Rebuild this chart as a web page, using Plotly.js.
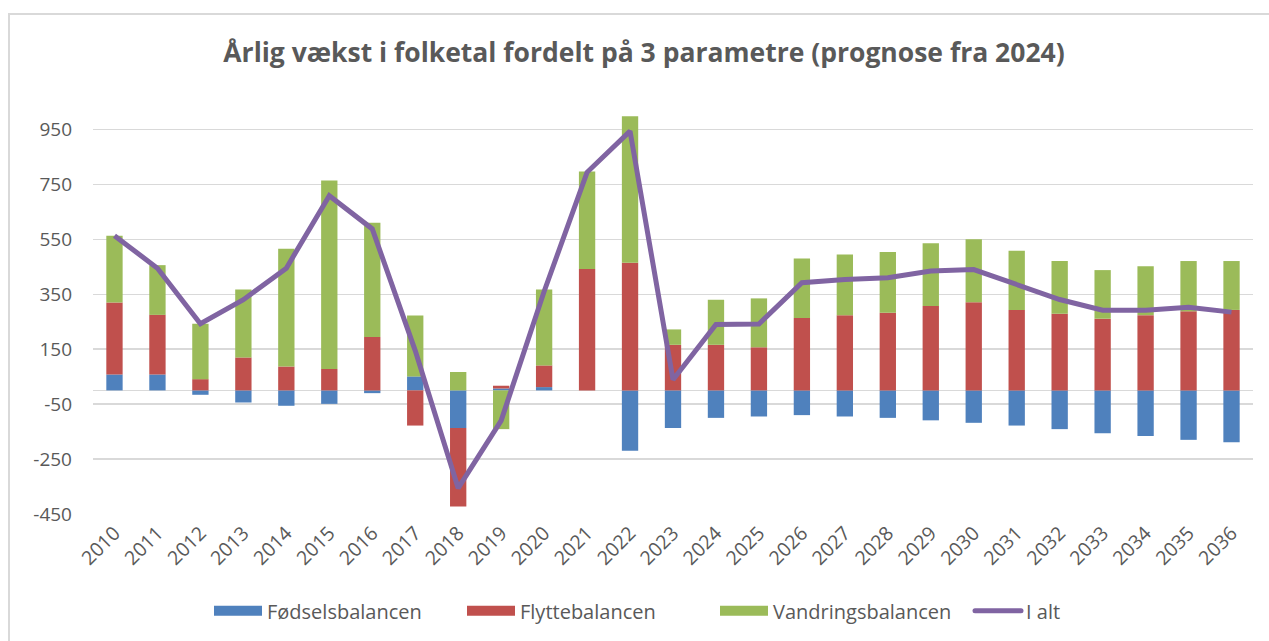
<!DOCTYPE html>
<html>
<head>
<meta charset="utf-8">
<script src="https://cdn.plot.ly/plotly-3.0.1.min.js"></script>
<style>
  html, body { margin: 0; padding: 0; background: #ffffff; }
  #frame { position: absolute; left: 8px; top: 13px; width: 1261px; height: 628px;
           border-left: 2px solid #d9d9d9; border-top: 2px solid #d9d9d9; box-sizing: border-box; }
  #chart { position: absolute; left: 0; top: 0; width: 1269px; height: 641px; }
  /* wide Excel-like legend swatches */
  #chart .legend .legendpoints path { d: path('M24,5H-24V-5H24Z') !important; }
  #chart .legend .legendlines path { d: path('M7,0h46') !important; stroke-linecap: round; }
</style>
</head>
<body>
<div id="frame"></div>
<div id="chart"></div>
<script>
const years = ['2010','2011','2012','2013','2014','2015','2016','2017','2018','2019','2020','2021','2022','2023',
               '2024','2025','2026','2027','2028','2029','2030','2031','2032','2033','2034','2035','2036'];
const foedsel  = [58, 58, -16, -44, -56, -49, -10, 51, -137, 7, 12, 0, -220, -137,
                  -100, -95, -90, -95, -100, -109, -118, -128, -141, -156, -166, -180, -189];
const flytte   = [262, 217, 41, 120, 87, 78, 194, -128, -286, 10, 79, 442, 465, 166,
                  166, 157, 264, 274, 283, 307, 321, 293, 279, 261, 274, 288, 293];
const vandring = [243, 181, 202, 247, 429, 686, 416, 222, 67, -141, 276, 355, 533, 56,
                  164, 178, 216, 221, 221, 229, 229, 215, 192, 177, 178, 183, 178];
const iAlt     = [563, 445, 243, 330, 445, 709, 588, 145, -356, -110, 360, 794, 944, 39,
                  240, 242, 392, 404, 410, 435, 440, 386, 331, 292, 292, 303, 285];
const yTicks = [-450, -250, -50, 150, 350, 550, 750, 950];

const font = 'Open Sans, sans-serif';
const grey = '#595959';

const traces = [
  {type: 'bar', name: 'Fødselsbalancen', x: years, y: foedsel, marker: {color: '#4F81BD'}},
  {type: 'bar', name: 'Flyttebalancen', x: years, y: flytte, marker: {color: '#C0504D'}},
  {type: 'bar', name: 'Vandringsbalancen', x: years, y: vandring, marker: {color: '#9BBB59'}},
  {type: 'scatter', mode: 'lines', name: 'I alt', x: years, y: iAlt,
   line: {color: '#8064A2', width: 5}}
];

const layout = {
  width: 1269, height: 641,
  paper_bgcolor: 'rgba(0,0,0,0)', plot_bgcolor: 'rgba(0,0,0,0)',
  margin: {l: 93, r: 16, t: 102, b: 126},
  barmode: 'relative',
  bargap: 0.62,
  font: {family: font, color: grey, size: 19},
  title: {text: '<b>Årlig vækst i folketal fordelt på 3 parametre (prognose fra 2024)</b>',
          font: {family: font, size: 26.5, color: grey},
          x: 0.5075, xref: 'container', xanchor: 'center',
          y: 0.918, yref: 'container', yanchor: 'middle'},
  xaxis: {type: 'category', tickangle: -45, showgrid: false, showline: false, ticks: '',
          ticklabelstandoff: 3,
          tickfont: {family: font, size: 19.5, color: grey}},
  yaxis: {range: [-450, 1050], tickvals: yTicks, ticktext: yTicks.map(String),
          showgrid: true, gridcolor: '#d9d9d9', gridwidth: 1.5,
          zeroline: true, zerolinecolor: '#d9d9d9', zerolinewidth: 1.5,
          showline: false, ticks: '', ticklabelstandoff: 20,
          tickfont: {family: font, size: 19, color: grey}},
  legend: {orientation: 'h', x: 0.1, xanchor: 'left', y: -0.232, yanchor: 'middle',
           font: {family: font, size: 20, color: grey}, traceorder: 'normal',
           itemwidth: 48, entrywidthmode: 'pixels', entrywidth: 190},
  showlegend: true
};

Plotly.newPlot('chart', traces, layout, {displayModeBar: false, staticPlot: true});
</script>
</body>
</html>
